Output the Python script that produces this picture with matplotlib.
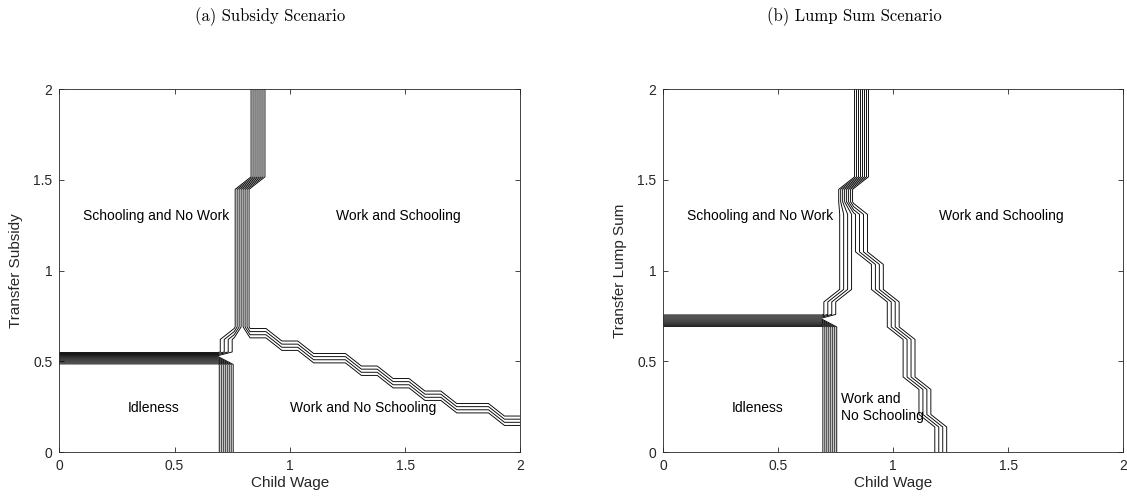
import numpy as np
import matplotlib
matplotlib.use("Agg")
import matplotlib.pyplot as plt

# grid used by the model solver (30 x 30 points on [0, 2] x [0, 2])
n_grid = 30
wage_grid = np.linspace(0, 2, n_grid)
transfer_grid = np.linspace(0, 2, n_grid)

# regime codes
IDLE, WORK_SCHOOL, WORK_ONLY, SCHOOL_ONLY = 0, 4, 8, 12

# --- subsidy scenario: regime edges by transfer row ---
sub_idle_top = 7          # last row where the idle region lives
sub_idle_edge = 10        # last idle column
# last "schooling and no work" column, rows above the idle block
sub_school_edge = [10, 10] + [11] * 12 + [12] * 8
# last "work and no schooling" column for each row (-1: none)
sub_work_edge = [29, 29, 29, 27, 24, 22, 20, 18, 15, 13] + [-1] * 20

# --- lump sum scenario ---
lump_idle_top = 10
lump_idle_edge = 10
lump_school_edge = [10, 10] + [11] * 9 + [12] * 8
lump_work_edge = ([17] * 3 + [16] * 3 + [15] * 4 + [14] * 3 + [13] * 3
                  + [12] * 4 + [-1] * 10)

sub_labels = [
    ("Schooling and No Work", 0.42, 1.30, "center"),
    ("Work and Schooling", 1.47, 1.30, "center"),
    ("Idleness", 0.41, 0.24, "center"),
    ("Work and No Schooling", 1.32, 0.24, "center"),
]
lump_labels = [
    ("Schooling and No Work", 0.42, 1.30, "center"),
    ("Work and Schooling", 1.47, 1.30, "center"),
    ("Idleness", 0.41, 0.24, "center"),
    ("Work and\nNo Schooling", 0.775, 0.245, "left"),
]

tick_vals = [0, 0.5, 1, 1.5, 2]
tick_text = ["0", "0.5", "1", "1.5", "2"]


def regime_map(idle_top, idle_edge, school_edge, work_edge):
    """Build the regime code on the grid from the per-row edges."""
    z = np.full((n_grid, n_grid), WORK_SCHOOL, dtype=float)
    for j in range(n_grid):
        if j <= idle_top:
            z[j, :idle_edge + 1] = IDLE
            start = idle_edge + 1
        else:
            s = school_edge[j - idle_top - 1]
            z[j, :s + 1] = SCHOOL_ONLY
            start = s + 1
        w = work_edge[j]
        if w >= start:
            z[j, start:w + 1] = WORK_ONLY
    return z


def draw_panel(ax, z, ylabel, labels):
    X, Y = np.meshgrid(wage_grid, transfer_grid)
    ax.contour(X, Y, z, levels=np.arange(0.5, 12, 1.0), colors="k",
               linewidths=0.65, linestyles="solid")
    for txt, x, y, ha in labels:
        ax.text(x, y, txt, ha=ha, va="center", fontsize=10,
                family="Liberation Sans", color="k", linespacing=1.25)
    ax.set_xlim(0, 2)
    ax.set_ylim(0, 2)
    ax.set_xticks(tick_vals)
    ax.set_xticklabels(tick_text)
    ax.set_yticks(tick_vals)
    ax.set_yticklabels(tick_text)
    ax.tick_params(direction="in", length=3.5, width=0.6, top=True,
                   right=True, labelsize=10, colors="#262626", pad=5)
    for lab in ax.get_xticklabels() + ax.get_yticklabels():
        lab.set_family("Liberation Sans")
    for sp in ax.spines.values():
        sp.set_linewidth(0.6)
        sp.set_color("#262626")
    ax.set_xlabel("Child Wage", fontsize=11, family="Liberation Sans",
                  color="#262626", labelpad=2)
    ax.set_ylabel(ylabel, fontsize=11, family="Liberation Sans",
                  color="#262626", labelpad=7)


fig = plt.figure(figsize=(11.27, 5.0), dpi=100)
ax1 = fig.add_axes([0.0526, 0.096, 0.4091, 0.7254])
ax2 = fig.add_axes([0.5886, 0.096, 0.4079, 0.7254])

draw_panel(ax1, regime_map(sub_idle_top, sub_idle_edge, sub_school_edge,
                           sub_work_edge), "Transfer Subsidy", sub_labels)
draw_panel(ax2, regime_map(lump_idle_top, lump_idle_edge, lump_school_edge,
                           lump_work_edge), "Transfer Lump Sum", lump_labels)

fig.text(270 / 1127, 1 - 17 / 500, "(a) Subsidy Scenario", ha="center",
         va="center", fontsize=12, family="cmr10")
fig.text(854 / 1127, 1 - 17 / 500, "(b) Lump Sum Scenario", ha="center",
         va="center", fontsize=12, family="cmr10")

fig.savefig("out.png", dpi=100)
